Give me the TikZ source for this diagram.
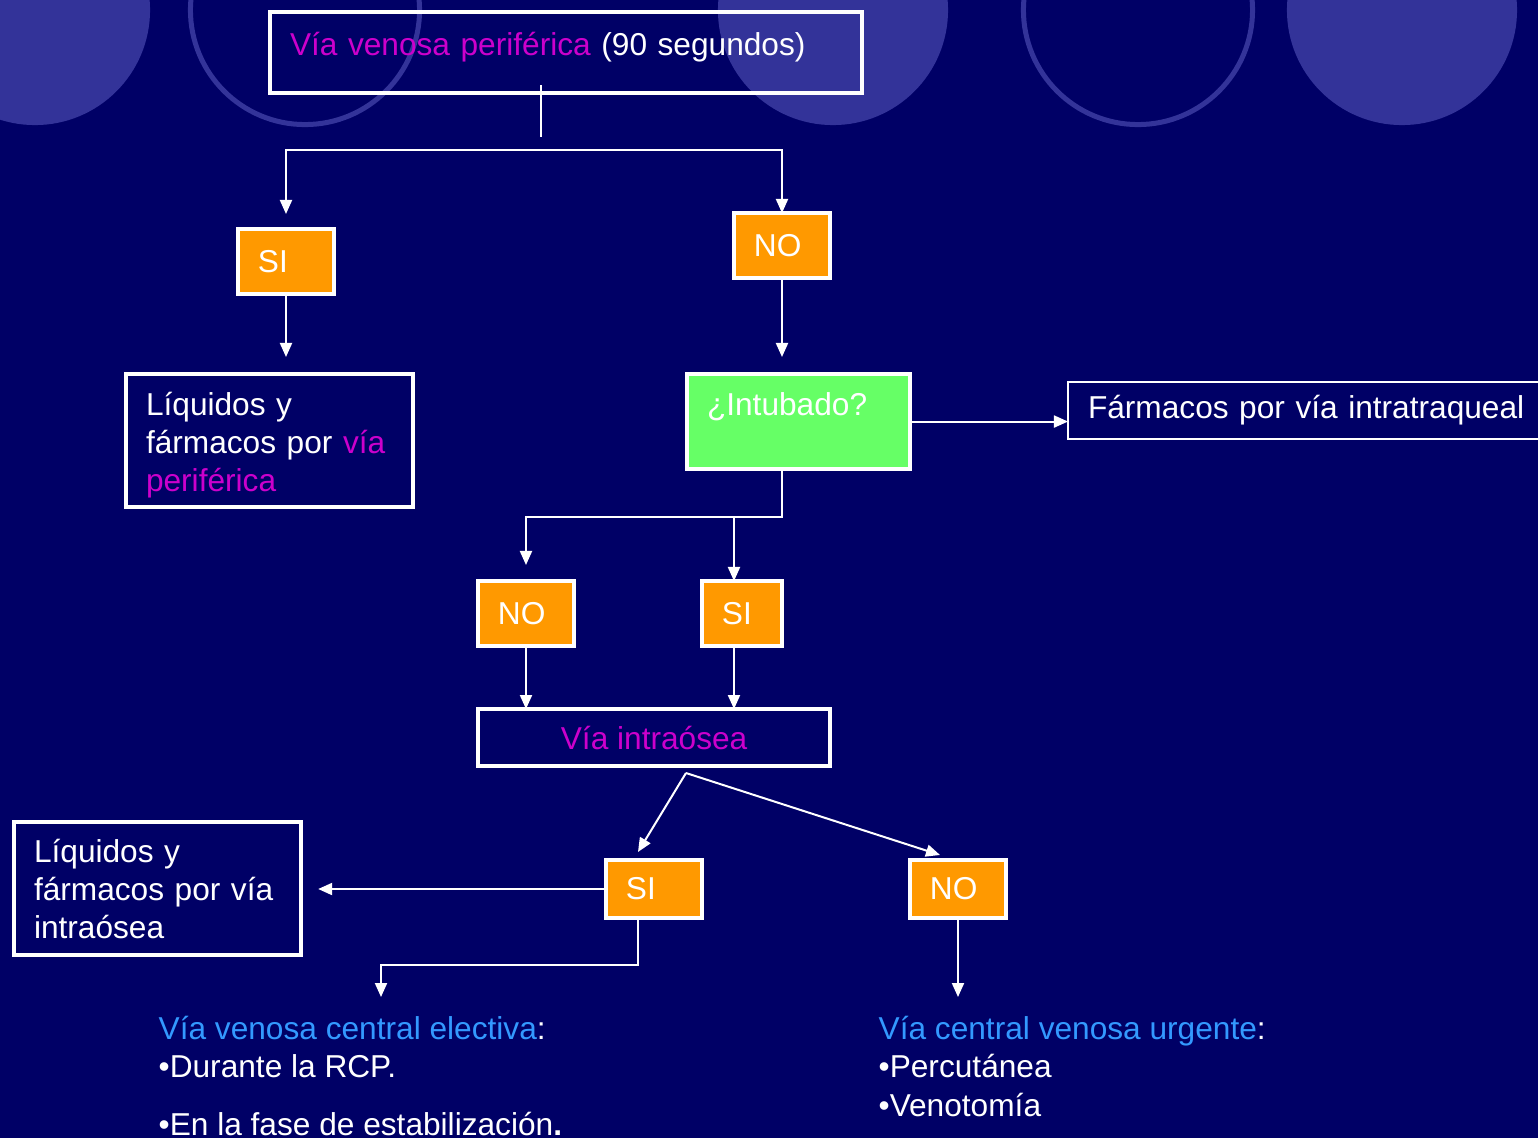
\documentclass[tikz,border=0pt]{standalone}
\usepackage{fontspec}
\setmainfont{Liberation Sans}
\usepackage{tikz}
\usetikzlibrary{arrows.meta}
\usepackage{xcolor}
\definecolor{fondo}{HTML}{000066}
\definecolor{disco}{HTML}{333399}
\definecolor{naranja}{HTML}{FF9900}
\definecolor{verde}{HTML}{66FF66}
\definecolor{lila}{HTML}{CC00CC}
\definecolor{celeste}{HTML}{3399FF}

\begin{document}
\begin{tikzpicture}[x=0.01cm,y=-0.01cm,>={Triangle[length=0.14cm,width=0.12cm]},
  font=\fontsize{9}{10.9}\selectfont,text=white,
  caja/.style={draw=white,line width=0.04cm,inner sep=0pt,outer sep=0pt},
  opcion/.style={caja,fill=naranja,minimum height=0.65cm,text width=0.56cm,inner xsep=0.2cm,align=left},
  linea/.style={draw=white,line width=0.02cm},
  flecha/.style={linea,->}]
\fill[fondo] (0,0) rectangle (1538,1138);
\useasboundingbox (0,0) rectangle (1538,1138);
\begin{scope}
\clip (0,0) rectangle (1538,1138);
\fill[disco] (35,10) circle (1.15cm);
\fill[disco] (833,10) circle (1.15cm);
\fill[disco] (1402,10) circle (1.15cm);
\draw[disco,line width=0.05cm] (305,10) circle (1.145cm);
\draw[disco,line width=0.05cm] (1138,10) circle (1.145cm);
\end{scope}
% cajas
\node[caja,anchor=north west,text width=5.52cm,inner xsep=0.2cm,align=left,text height=0.43cm,text depth=0.38cm] (venosa) at (270,12) {{\color{lila}Vía venosa periférica} (90 segundos)};
\node[opcion] (si1) at (286,261.5) {SI};
\node[opcion] (no1) at (782,245.5) {NO};
\node[caja,anchor=north west,text width=2.47cm,inner xsep=0.2cm,align=left,text height=0.41cm,text depth=0.92cm] (liqper) at (126,374) {Líquidos y\\fármacos por {\color{lila}vía}\\{\color{lila}periférica}};
\node[caja,fill=verde,anchor=north west,text width=1.83cm,inner xsep=0.2cm,align=left,text height=0.41cm,text depth=0.54cm] (intubado) at (687,374) {¿Intubado?};
\node[draw=white,line width=0.02cm,outer sep=0pt,anchor=north west,text width=4.8cm,inner xsep=0.2cm,inner ysep=0pt,minimum height=0.57cm,align=left] (traqueal) at (1068,382) {Fármacos por vía intratraqueal};
\node[opcion] (no2) at (526,613.5) {NO};
\node[opcion,text width=0.4cm] (si2) at (742,613.5) {SI};
\node[caja,anchor=north west,minimum width=3.52cm,minimum height=0.57cm] (intraosea) at (478,709) {\color{lila}Vía intraósea};
\node[opcion,minimum height=0.58cm] (si3) at (654,889) {SI};
\node[opcion,minimum height=0.58cm] (no3) at (958,889) {NO};
\node[caja,anchor=north west,text width=2.47cm,inner xsep=0.2cm,align=left,text height=0.4cm,text depth=0.93cm] (liqio) at (14,822) {Líquidos y\\fármacos por vía\\intraósea};
\node[anchor=base west,align=left,inner sep=0pt] (electiva) at (158,1135) {{\color{celeste}Vía venosa central electiva}:\\•Durante la RCP.\\[5.4pt]•En la fase de estabilización{\bfseries.}};
\node[anchor=base west,align=left,inner sep=0pt] (urgente) at (878,1116) {{\color{celeste}Vía central venosa urgente}:\\•Percutánea\\•Venotomía};
% conectores
\coordinate (rama) at (541,150);
\coordinate (bif) at (782,517);
\coordinate (bif2) at (734,517);
\coordinate (abajo) at (686,773);
\coordinate (pie) at (381,997);
\coordinate (pie2) at (958,997);
\draw[linea] ([yshift=0.08cm]venosa.south -| rama) -- ++(0,52);
\draw[flecha,shorten >=0.15cm] (rama) -| (si1.north);
\draw[flecha] (rama) -| (no1.north);
\draw[flecha,shorten >=0.17cm] (si1.south) -- (si1.south |- liqper.north);
\draw[flecha,shorten >=0.17cm] (no1.south) -- (no1.south |- intubado.north);
\draw[flecha] (intubado.east) -- (intubado.east -| traqueal.west);
\draw[flecha,shorten >=0.16cm] (intubado.south -| bif) -- (bif) -| (no2.north);
\draw[flecha] (bif2) -- (bif2 |- si2.north);
\draw[flecha] (no2.south) -- (no2.south |- intraosea.north);
\draw[flecha] ([xshift=-0.08cm]si2.south) -- ([xshift=-0.08cm]si2.south |- intraosea.north);
\draw[flecha] (abajo) -- ([shift={(-16,-8)}]si3.north);
\draw[flecha] (abajo) -- ([shift={(-18,-5)}]no3.north);
\draw[flecha,shorten >=0.17cm] (si3.west) -- (si3.west -| liqio.east);
\draw[flecha] ([xshift=-0.16cm]si3.south) -- ++(0,47) -| (pie);
\draw[flecha] (no3.south) -- (pie2);
\end{tikzpicture}
\end{document}
